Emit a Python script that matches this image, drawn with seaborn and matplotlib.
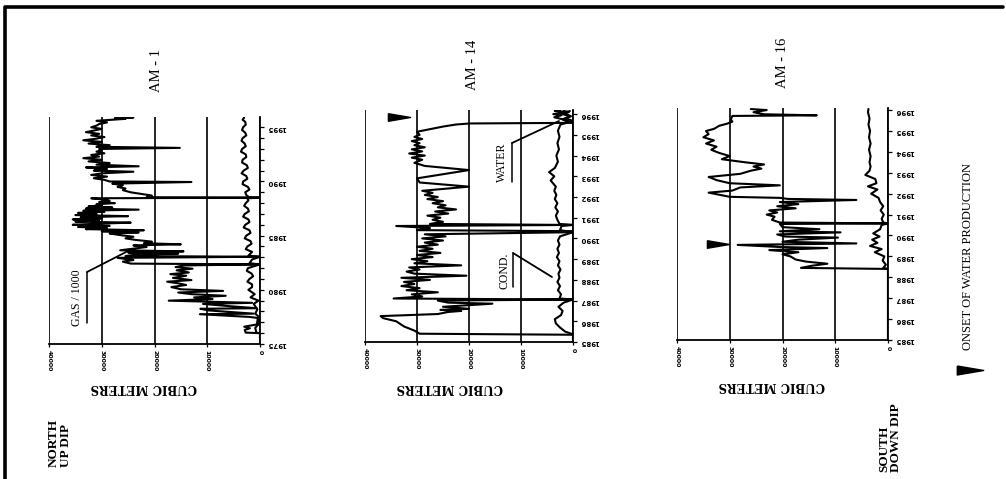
import numpy as np
import matplotlib
matplotlib.use("Agg")
import matplotlib.pyplot as plt
import seaborn as sns
from matplotlib.lines import Line2D

sns.set_theme(style="white")
plt.rcParams['font.family'] = ['Liberation Serif', 'DejaVu Serif']

# ---------------- AM-1 (1975-1996) ----------------
am1_gas_year = [1975.5, 1976.0, 1976.05, 1976.3, 1976.45, 1976.6, 1976.8, 1977.4, 1977.5, 1977.75,
                1977.8, 1978.1, 1978.25, 1978.3, 1978.5, 1978.7, 1978.8, 1979.0, 1979.15, 1979.3,
                1979.45, 1979.6, 1979.75, 1979.9, 1980.05, 1980.25, 1980.45, 1980.6, 1980.75, 1980.9,
                1981.1, 1981.3, 1981.45, 1981.6, 1981.8, 1981.95, 1982.1, 1982.25, 1982.35, 1982.42,
                1982.6, 1982.75, 1982.95, 1983.05, 1983.12, 1983.25, 1983.35, 1983.45, 1983.55, 1983.65,
                1983.8, 1983.95, 1984.1, 1984.2, 1984.3, 1984.45, 1984.6, 1984.75, 1984.9, 1985.05,
                1985.2, 1985.3, 1985.4, 1985.5, 1985.6, 1985.7, 1985.8, 1985.9, 1986.0, 1986.1,
                1986.2, 1986.3, 1986.4, 1986.5, 1986.6, 1986.7, 1986.8, 1986.9, 1987.0, 1987.1,
                1987.2, 1987.3, 1987.4, 1987.5, 1987.6, 1987.7, 1987.8, 1987.9, 1988.0, 1988.1,
                1988.2, 1988.3, 1988.45, 1988.5, 1988.55, 1988.7, 1988.85, 1989.0, 1989.2, 1989.35,
                1989.5, 1989.65, 1989.8, 1989.95, 1990.0, 1990.15, 1990.3, 1990.45, 1990.6, 1990.75,
                1990.9, 1991.0, 1991.15, 1991.3, 1991.4, 1991.55, 1991.7, 1991.85, 1992.0, 1992.15,
                1992.3, 1992.45, 1992.6, 1992.75, 1992.9, 1993.0, 1993.1, 1993.2, 1993.35, 1993.5,
                1993.65, 1993.8, 1993.95, 1994.1, 1994.25, 1994.4, 1994.55, 1994.7, 1994.85, 1995.0,
                1995.15, 1995.3, 1995.45, 1995.6, 1995.7, 1995.78, 1995.85, 1995.9, 1995.95]
am1_gas_val = [0, 0, 2700, 2900, 1900, 3000, 600, 400, 2000, 11400,
               1200, 9800, 11300, 600, 6000, 10800, 1500, 17300, 9000, 12500,
               6500, 13000, 15500, 7000, 15000, 16800, 14000, 15500, 17600, 13000,
               16500, 14000, 17000, 13500, 15800, 12800, 16000, 14500, 0, 24500,
               26000, 24000, 27000, 0, 25500, 23500, 15500, 25000, 14500, 26500,
               24000, 21500, 24000, 15000, 22000, 20500, 23500, 25500, 24000, 26500,
               28500, 23000, 30000, 22000, 33000, 29000, 34500, 28500, 35500, 31000,
               24500, 35000, 30500, 35500, 30000, 34000, 25000, 35000, 31000, 34500,
               29500, 33500, 23000, 33000, 28000, 32500, 30000, 31000, 27500, 30500,
               28500, 29000, 32000, 0, 21500, 20500, 22500, 24500, 26000, 25500,
               27000, 26000, 28000, 13000, 28500, 29500, 31500, 29000, 32000, 30000,
               24000, 31500, 29000, 33000, 23000, 31000, 28500, 32500, 30000, 33500,
               30500, 32000, 29500, 31000, 30000, 30500, 15200, 31000, 28500, 32500,
               30000, 33500, 31000, 29500, 32000, 30500, 33000, 31500, 30000, 32000,
               31000, 30500, 29000, 31000, 28000, 25500, 27500, 24000, 25500]

am1_cond_year = [1975.5, 1976.0, 1976.05, 1976.5, 1976.8, 1977.5, 1977.8, 1978.2, 1978.7, 1979.0,
                 1979.3, 1979.6, 1980.0, 1980.25, 1980.5, 1980.75, 1981.0, 1981.25, 1981.5, 1981.75,
                 1982.0, 1982.35, 1982.45, 1982.8, 1983.05, 1983.15, 1983.5, 1983.75, 1984.0, 1984.25,
                 1984.5, 1984.75, 1985.0, 1985.25, 1985.5, 1985.75, 1986.0, 1986.25, 1986.5, 1986.75,
                 1987.0, 1987.25, 1987.5, 1987.75, 1988.0, 1988.25, 1988.45, 1988.5, 1988.55, 1988.75,
                 1989.0, 1989.25, 1989.5, 1989.75, 1990.0, 1990.25, 1990.5, 1990.75, 1991.0, 1991.25,
                 1991.5, 1991.75, 1992.0, 1992.25, 1992.5, 1992.75, 1993.0, 1993.25, 1993.5, 1993.75,
                 1994.0, 1994.25, 1994.5, 1994.75, 1995.0, 1995.25, 1995.5, 1995.7, 1995.9]
am1_cond_val = [0, 0, 700, 900, 300, 200, 900, 500, 1200, 300,
                1800, 1000, 2200, 1500, 1500, 2400, 2000, 1300, 1600, 2500,
                2300, 0, 2000, 1500, 0, 2200, 1500, 2700, 2400, 1600,
                1800, 2900, 2600, 1800, 2000, 3100, 2800, 2000, 2200, 3200,
                2900, 2100, 2300, 3000, 2700, 2200, 2400, 0, 2100, 2600,
                2800, 2000, 2300, 3300, 3200, 2400, 2600, 3500, 3100, 2300,
                2500, 3400, 3300, 2600, 2700, 3600, 3400, 2700, 2900, 3500,
                3300, 2600, 2800, 3400, 3200, 2700, 2800, 3300, 3000]

# ---------------- AM-14 (1985-1996) ----------------
am14_gas_year = [1985.0, 1985.35, 1985.4, 1985.55, 1985.75, 1986.0, 1986.15, 1986.25, 1986.35, 1986.45,
                 1986.5, 1986.55, 1986.6, 1986.7, 1986.85, 1986.9, 1987.0, 1987.05, 1987.1, 1987.2,
                 1987.3, 1987.4, 1987.5, 1987.6, 1987.7, 1987.8, 1987.9, 1988.0, 1988.1, 1988.2,
                 1988.3, 1988.4, 1988.5, 1988.6, 1988.7, 1988.8, 1988.9, 1989.0, 1989.1, 1989.2,
                 1989.3, 1989.4, 1989.5, 1989.6, 1989.7, 1989.8, 1989.9, 1990.0, 1990.1, 1990.2,
                 1990.3, 1990.35, 1990.4, 1990.5, 1990.6, 1990.65, 1990.7, 1990.8, 1990.9, 1991.0,
                 1991.1, 1991.2, 1991.3, 1991.4, 1991.5, 1991.6, 1991.7, 1991.8, 1991.9, 1992.0,
                 1992.1, 1992.2, 1992.3, 1992.5, 1992.7, 1992.9, 1993.1, 1993.3, 1993.5, 1993.65,
                 1993.8, 1993.9, 1994.0, 1994.1, 1994.2, 1994.3, 1994.4, 1994.5, 1994.6, 1994.7,
                 1994.8, 1994.9, 1995.0, 1995.15, 1995.3, 1995.4, 1995.5, 1995.55, 1995.58, 1995.7,
                 1995.8, 1995.9, 1996.0, 1996.1, 1996.15]
am14_gas_val = [0, 0, 29500, 30500, 32500, 34000, 36500, 37000, 26000, 24000,
                21500, 25500, 20000, 25000, 15500, 24000, 26000, 0, 34500, 29000,
                31000, 26000, 32000, 29500, 33000, 30500, 32500, 27500, 33000, 20500,
                30500, 32000, 29500, 31500, 21500, 30500, 28000, 31000, 27000, 30000,
                25500, 29500, 27000, 30000, 26000, 28500, 25000, 29000, 24500, 28500,
                0, 0, 30000, 27500, 34000, 0, 27500, 25000, 27000, 25500,
                28000, 24000, 26500, 22500, 26000, 24500, 27000, 25000, 28000, 26000,
                28500, 27000, 29000, 20000, 29500, 30000, 25000, 20000, 28500, 30500,
                29000, 31000, 28500, 31500, 29000, 31000, 28500, 30500, 29500, 31000,
                29000, 30500, 29500, 30000, 27000, 25000, 22500, 19800, 0, 300,
                1500, 500, 2000, 800, 1800]

am14_cond_year = [1985.0, 1985.35, 1985.4, 1985.5, 1985.7, 1985.9, 1986.1, 1986.3, 1986.5, 1986.7,
                  1986.9, 1987.05, 1987.1, 1987.3, 1987.5, 1987.7, 1987.9, 1988.1, 1988.3, 1988.5,
                  1988.7, 1988.9, 1989.1, 1989.3, 1989.5, 1989.7, 1989.9, 1990.1, 1990.3, 1990.4,
                  1990.6, 1990.65, 1990.7, 1990.9, 1991.1, 1991.3, 1991.5, 1991.7, 1991.9, 1992.1,
                  1992.3, 1992.5, 1992.8, 1993.0, 1993.2, 1993.4, 1993.7, 1994.0, 1994.3, 1994.6,
                  1994.9, 1995.2, 1995.5, 1995.6, 1995.75, 1995.9, 1996.05, 1996.15]
am14_cond_val = [0, 0, 300, 1500, 2500, 3300, 3500, 2300, 2000, 2800,
                 1800, 0, 2600, 2300, 2900, 2500, 3000, 2600, 2800, 2400,
                 2900, 2600, 3100, 2700, 3000, 2600, 2900, 2500, 0, 2500,
                 2200, 0, 2600, 3000, 3300, 2900, 3400, 3000, 3500, 3200,
                 3600, 3300, 4300, 3600, 4600, 3500, 2900, 3200, 2700, 3000,
                 2600, 2900, 2400, 900, 2000, 400, 1800, 600]

am14_water_year = [1995.55, 1995.7, 1995.85, 1995.95, 1996.0, 1996.1, 1996.15, 1996.2]
am14_water_val = [0, 1200, 3600, 2200, 3800, 1000, 3500, 2500]

# ---------------- AM-16 (1985-1996) ----------------
am16_gas_year = [1985.0, 1988.4, 1988.45, 1988.55, 1988.65, 1988.75, 1988.85, 1989.0, 1989.1, 1989.2,
                 1989.3, 1989.4, 1989.45, 1989.55, 1989.62, 1989.7, 1989.8, 1989.9, 1989.95, 1990.05,
                 1990.15, 1990.2, 1990.3, 1990.4, 1990.55, 1990.58, 1990.62, 1990.75, 1990.9, 1991.0,
                 1991.1, 1991.2, 1991.3, 1991.4, 1991.5, 1991.6, 1991.7, 1991.75, 1991.8, 1991.85,
                 1991.95, 1992.05, 1992.15, 1992.3, 1992.4, 1992.5, 1992.65, 1992.8, 1992.95, 1993.1,
                 1993.2, 1993.3, 1993.4, 1993.5, 1993.65, 1993.8, 1993.95, 1994.1, 1994.25, 1994.4,
                 1994.55, 1994.7, 1994.85, 1995.0, 1995.1, 1995.25, 1995.35, 1995.45, 1995.55, 1995.72,
                 1995.75, 1995.8, 1995.9, 1996.0, 1996.05]
am16_gas_val = [0, 0, 16500, 14500, 11500, 15500, 17500, 18500, 20000, 17000,
                22500, 11500, 20500, 28500, 6000, 20000, 17000, 9500, 19500, 21000,
                9000, 20500, 13000, 20000, 20500, 0, 20500, 22000, 21500, 23000,
                21000, 22500, 17500, 21000, 17000, 20500, 6000, 19000, 20500, 30000,
                32000, 34000, 29500, 28000, 20500, 30000, 32500, 34000, 28000, 26000,
                24000, 25500, 23500, 27000, 31500, 30000, 32000, 33500, 32500, 34500,
                33000, 35000, 34000, 34500, 33000, 32000, 30500, 29500, 29800, 29500,
                13500, 23500, 25500, 23000, 26000]

am16_cond_year = [1985.0, 1988.4, 1988.45, 1988.6, 1988.8, 1989.0, 1989.2, 1989.35, 1989.5, 1989.65,
                  1989.8, 1989.95, 1990.1, 1990.3, 1990.5, 1990.58, 1990.62, 1990.8, 1991.0, 1991.2,
                  1991.4, 1991.6, 1991.8, 1992.0, 1992.2, 1992.35, 1992.5, 1992.7, 1992.9, 1993.1,
                  1993.3, 1993.5, 1993.8, 1994.1, 1994.4, 1994.7, 1995.0, 1995.3, 1995.6, 1995.9,
                  1996.05]
am16_cond_val = [0, 0, 900, 400, 1000, 700, 2500, 1200, 3400, 2000,
                 3000, 1600, 2800, 1500, 1200, 0, 900, 1200, 800, 1400,
                 900, 1500, 1800, 3200, 2000, 3800, 2200, 2400, 4300, 3500,
                 3300, 3500, 3300, 3600, 3300, 3600, 3400, 3700, 3500, 3800,
                 3700]

# onset of water production (year, cubic meters)
am14_onset = (1995.87, 33500)
am16_onset = (1989.58, 32300)

value_ticks = [40000, 30000, 20000, 10000, 0]
value_labels = ["40000", "30000", "20000", "10000", "0"]

W, H = 1006, 479
fig = plt.figure(figsize=(W / 100, H / 100), dpi=100)
fig.patch.set_facecolor("white")


def rect(left, top, right, bottom):
    return [left / W, 1 - bottom / H, (right - left) / W, (bottom - top) / H]


def fxy(x, y):
    return x / W, 1 - y / H


onset_marker = [(-1, 0.34), (1, 0), (-1, -0.34), (-1, 0.34)]


def panel(box, ylim, major, minor, series, title, title_xy, label_xy, onset=None):
    ax = fig.add_axes(rect(*box))
    ax.set_facecolor("white")
    for yrs, vals in series:
        sns.lineplot(x=np.array(vals), y=np.array(yrs), sort=False, estimator=None,
                     color="black", linewidth=1.5, ax=ax)
    ax.set_xlim(40000, 0)
    ax.set_ylim(*ylim)
    ax.yaxis.tick_right()
    ax.set_xticks(value_ticks)
    ax.set_xticklabels(value_labels, fontsize=4.5, fontweight="bold", family="DejaVu Sans")
    ax.set_yticks(major)
    ax.set_yticks(minor, minor=True)
    ax.set_yticklabels([str(y) for y in major], fontsize=5, fontweight="bold",
                       family="DejaVu Sans")
    ax.tick_params(axis="y", which="both", right=True, left=False, labelright=True,
                   labelleft=False, direction="out", length=3, width=0.9, colors="black", pad=2)
    ax.tick_params(axis="y", which="major", labelrotation=180)
    ax.tick_params(axis="x", bottom=True, direction="out", length=2.5, width=0.9,
                   colors="black", pad=2, labelrotation=270)
    for lab in ax.get_yticklabels(which="major"):
        lab.set_rotation(180)
    ax.grid(axis="x", color="black", linewidth=1.2)
    ax.grid(axis="y", visible=False)
    for s in ("top", "left"):
        ax.spines[s].set_visible(False)
    for s in ("right", "bottom"):
        ax.spines[s].set_color("black")
        ax.spines[s].set_linewidth(1.3)
    ax.set_xlabel("")
    ax.set_ylabel("")
    if onset is not None:
        ax.plot([onset[1]], [onset[0]], linestyle="none", marker=onset_marker,
                markersize=16, color="black", clip_on=False)
    tx, ty = fxy(*title_xy)
    fig.text(tx, ty, title, rotation=90, ha="center", va="center", fontsize=10.5,
             color="black")
    lx, ly = fxy(*label_xy)
    fig.text(lx, ly, "CUBIC METERS", rotation=180, ha="center", va="center",
             fontsize=8.5, fontweight="bold", family="DejaVu Serif", color="black")
    return ax


panel((49, 117, 260, 344), (1975, 1995.95), [1975, 1980, 1985, 1990, 1995],
      list(range(1975, 1996)),
      [(am1_gas_year, am1_gas_val), (am1_cond_year, am1_cond_val)],
      "AM - 1", (157, 70), (144, 388))

years_85_96 = list(range(1985, 1997))
panel((365, 110, 573, 342), (1985, 1996.2), years_85_96, years_85_96,
      [(am14_gas_year, am14_gas_val), (am14_cond_year, am14_cond_val),
       (am14_water_year, am14_water_val)],
      "AM - 14", (472, 65), (450, 387), onset=am14_onset)

panel((677, 108, 888, 340), (1985, 1996.1), years_85_96, years_85_96,
      [(am16_gas_year, am16_gas_val), (am16_cond_year, am16_cond_val)],
      "AM - 16", (783, 63), (772, 386), onset=am16_onset)


def fig_line(points, lw=1.3):
    xs = [p[0] / W for p in points]
    ys = [1 - p[1] / H for p in points]
    fig.add_artist(Line2D(xs, ys, transform=fig.transFigure, color="black", linewidth=lw))


# curve labels with underline and leader
for text, (x, y), under, leader in [
    ("GAS / 1000", (77, 298), [(87, 272), (87, 323)], [(87, 272), (130, 250)]),
    ("WATER", (502, 162), [(512, 143), (512, 182)], [(512, 143), (559, 121)]),
    ("COND.", (505, 271), [(513, 253), (513, 287)], [(513, 253), (552, 277)]),
]:
    fx, fy = fxy(x, y)
    fig.text(fx, fy, text, rotation=90, ha="center", va="center", fontsize=8.5, color="black")
    fig_line(under, lw=1.1)
    fig_line(leader, lw=1.3)

# end labels
nx, ny = fxy(48, 467)
fig.text(nx, ny, "NORTH\nUP DIP", rotation=90, ha="left", va="bottom", multialignment="left",
         fontsize=9.5, fontweight="bold", color="black", linespacing=0.95)
sx, sy = fxy(878, 472)
fig.text(sx, sy, "SOUTH\nDOWN DIP", rotation=90, ha="left", va="bottom", multialignment="left",
         fontsize=9.5, fontweight="bold", color="black", linespacing=0.95)

# legend for onset marker
ox, oy = fxy(968, 256)
fig.text(ox, oy, "ONSET OF WATER PRODUCTION", rotation=90, ha="center", va="center",
         fontsize=9, color="black")
mx, my = fxy(970, 370)
fig.add_artist(Line2D([mx], [my], transform=fig.transFigure, linestyle="none",
                      marker=onset_marker, markersize=19, color="black"))

# page frame
fig_line([(5, 480), (5, 7), (1003, 7)], lw=2.6)

fig.savefig("out.png", dpi=100, facecolor="white")
